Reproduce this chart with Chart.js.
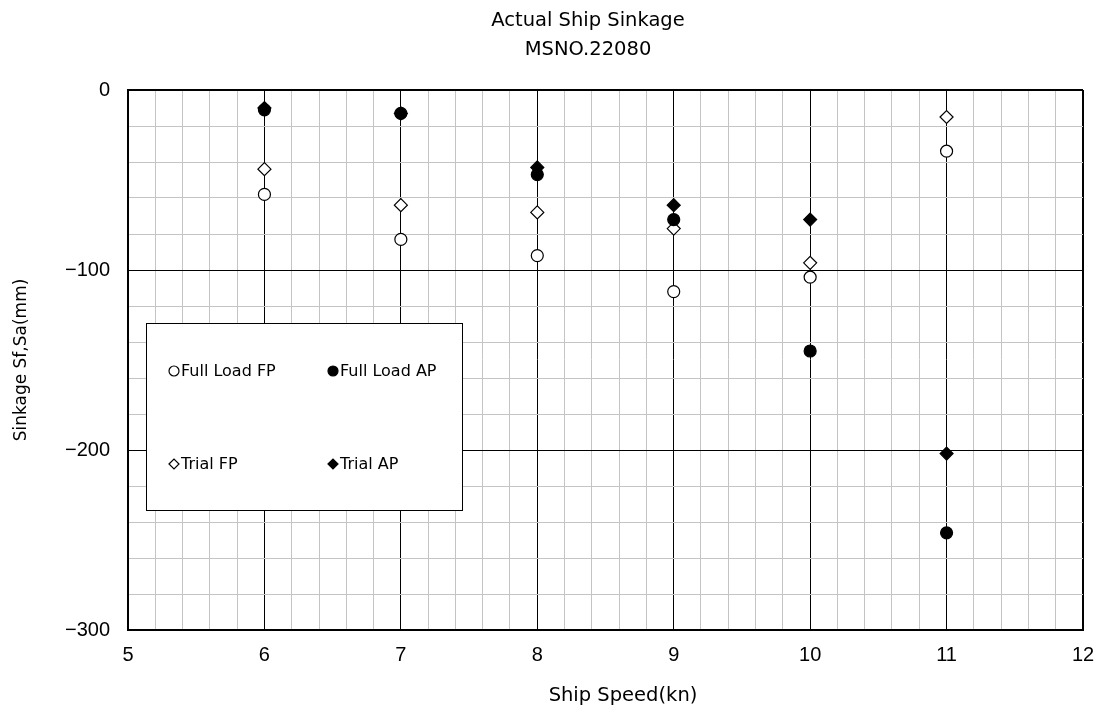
<!DOCTYPE html>
<html>
<head>
<meta charset="utf-8">
<script src="https://cdn.jsdelivr.net/npm/chart.js@4/dist/chart.umd.min.js"></script>
<style>
  html, body { margin: 0; padding: 0; background: #fff; }
  #wrap { width: 1100px; height: 713px; }
</style>
</head>
<body>
<div id="wrap"><canvas id="sinkage"></canvas></div>
<script>
// chart data
const speeds = [6, 7, 8, 9, 10, 11];
const fullLoadFP = [-58, -83, -92, -112, -104, -34];
const fullLoadAP = [-11, -13, -47, -72, -145, -246];
const trialFP = [-44, -64, -68, -77, -96, -15];
const trialAP = [-10, -13, -43, -64, -72, -202];

const titleLines = ['Actual Ship Sinkage', 'MSNO.22080'];
const xTitle = 'Ship Speed(kn)';
const yTitle = 'Sinkage Sf,Sa(mm)';

const TEXT_FONT = '"DejaVu Sans", sans-serif';
const TICK_FONT = '"Liberation Sans", Arial, sans-serif';

const toPoints = (vals) => speeds.map((s, i) => ({ x: s, y: vals[i] }));
const isWhole = (v, step) => Math.abs(v / step - Math.round(v / step)) < 1e-6;

// title, x-axis title and the boxed legend inside the plot
const decorations = {
  id: 'decorations',
  afterDraw(chart) {
    const ctx = chart.ctx;
    ctx.save();
    ctx.fillStyle = '#000';
    ctx.textAlign = 'center';
    ctx.textBaseline = 'alphabetic';
    ctx.font = '19.5px ' + TEXT_FONT;
    ctx.fillText(titleLines[0], 588, 26);
    ctx.fillText(titleLines[1], 588, 55);
    ctx.fillText(xTitle, 623, 701);

    // legend box
    const box = { x: 146, y: 323, w: 316, h: 187 };
    ctx.fillStyle = '#fff';
    ctx.fillRect(box.x, box.y, box.w, box.h);
    ctx.strokeStyle = '#000';
    ctx.lineWidth = 1;
    ctx.strokeRect(box.x + 0.5, box.y + 0.5, box.w, box.h);

    const slots = [
      { ds: 0, x: 174, y: 371 },
      { ds: 1, x: 333, y: 371 },
      { ds: 2, x: 174, y: 464 },
      { ds: 3, x: 333, y: 464 }
    ];
    ctx.font = '16px ' + TEXT_FONT;
    ctx.textAlign = 'left';
    ctx.textBaseline = 'middle';
    slots.forEach(s => {
      const d = chart.data.datasets[s.ds];
      ctx.fillStyle = d.backgroundColor;
      ctx.strokeStyle = d.borderColor;
      ctx.lineWidth = 1.2;
      Chart.helpers.drawPoint(ctx, { pointStyle: d.pointStyle, radius: 5, rotation: 0, borderWidth: 1.2 }, s.x, s.y);
      ctx.fillStyle = '#000';
      ctx.fillText(d.label, s.x + 7, s.y + 1);
    });
    ctx.restore();
  }
};

const gridColor = (step) => (c) => {
  const v = c.tick ? c.tick.value : 0;
  return isWhole(v, step) ? '#000' : '#c4c4c4';
};
const gridWidth = (lo, hi) => (c) => {
  const v = c.tick ? c.tick.value : 0;
  return (Math.abs(v - lo) < 1e-6 || Math.abs(v - hi) < 1e-6) ? 2 : 1;
};

new Chart(document.getElementById('sinkage'), {
  type: 'scatter',
  data: {
    datasets: [
      { label: 'Full Load FP', data: toPoints(fullLoadFP), pointStyle: 'circle', pointRadius: 6,
        backgroundColor: '#fff', borderColor: '#000', borderWidth: 1.2 },
      { label: 'Full Load AP', data: toPoints(fullLoadAP), pointStyle: 'circle', pointRadius: 6,
        backgroundColor: '#000', borderColor: '#000', borderWidth: 1.2 },
      { label: 'Trial FP', data: toPoints(trialFP), pointStyle: 'rectRot', pointRadius: 6.5,
        backgroundColor: '#fff', borderColor: '#000', borderWidth: 1.2 },
      { label: 'Trial AP', data: toPoints(trialAP), pointStyle: 'rectRot', pointRadius: 6.5,
        backgroundColor: '#000', borderColor: '#000', borderWidth: 1.2 }
    ]
  },
  options: {
    responsive: true,
    maintainAspectRatio: false,
    animation: false,
    layout: { padding: { top: 90, right: 17, left: 0, bottom: 0 } },
    plugins: {
      legend: { display: false },
      title: { display: false },
      tooltip: { enabled: false }
    },
    scales: {
      x: {
        type: 'linear',
        min: 5,
        max: 12,
        afterFit(scale) {
          scale.height = 83;
          scale.paddingLeft = 0;
          scale.paddingRight = 0;
        },
        ticks: {
          stepSize: 0.2,
          autoSkip: false,
          maxRotation: 0,
          padding: 13,
          color: '#000',
          font: { family: TICK_FONT, size: 20 },
          callback: (v) => isWhole(v, 1) ? String(Math.round(v)) : ''
        },
        grid: { color: gridColor(1), lineWidth: gridWidth(5, 12), drawTicks: false },
        border: { color: '#000', width: 2 }
      },
      y: {
        min: -300,
        max: 0,
        afterFit(scale) {
          scale.width = 128;
          scale.paddingTop = 0;
          scale.paddingBottom = 0;
        },
        title: {
          display: true,
          text: yTitle,
          color: '#000',
          font: { family: TEXT_FONT, size: 17 },
          padding: { top: 11, bottom: 0 }
        },
        ticks: {
          stepSize: 20,
          autoSkip: false,
          padding: 18,
          color: '#000',
          font: { family: TICK_FONT, size: 20 },
          callback: (v) => isWhole(v, 100) ? String(Math.round(v)).replace('-', '\u2212') : ''
        },
        grid: { color: gridColor(100), lineWidth: gridWidth(-300, 0), drawTicks: false },
        border: { color: '#000', width: 2 }
      }
    }
  },
  plugins: [decorations]
});
</script>
</body>
</html>
